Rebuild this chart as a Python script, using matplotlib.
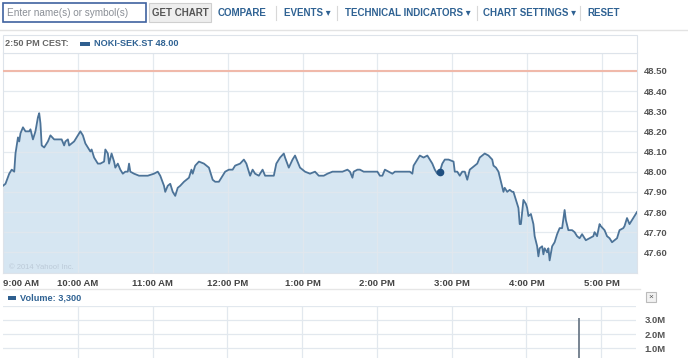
import matplotlib
matplotlib.use("Agg")
import matplotlib.pyplot as plt
from matplotlib.patches import Rectangle

# ---------------- data ----------------
minutes = [0, 2, 5, 7, 9, 10, 12, 13, 14, 16, 18, 20, 21, 22, 24, 25, 26, 28, 29, 30,
           31, 33, 34, 36, 38, 41, 45, 47, 49, 50, 52, 53, 55, 57, 60, 62, 64, 66, 68, 70,
           71, 73, 76, 78, 81, 82, 84, 85, 87, 89, 90, 92, 94, 96, 98, 100, 101, 102, 105, 109,
           116, 121, 124, 126, 129, 130, 132, 134, 136, 138, 140, 142, 145, 147, 149, 151, 152, 154, 157, 161,
           165, 168, 170, 173, 176, 178, 181, 184, 186, 190, 193, 195, 197, 198, 200, 202, 205, 208, 210, 213,
           217, 219, 222, 225, 226, 229, 232, 234, 236, 238, 242, 246, 250, 253, 257, 260, 264, 268, 272, 276,
           278, 280, 281, 284, 286, 289, 293, 297, 300, 302, 304, 306, 309, 312, 314, 318, 322, 326, 328, 329,
           332, 334, 337, 340, 342, 344, 346, 348, 350, 352, 354, 357, 361, 362, 364, 366, 368, 370, 372, 374,
           378, 380, 382, 386, 389, 392, 393, 395, 397, 399, 401, 402, 404, 406, 408, 409, 410, 412, 413, 414,
           415, 416, 417, 419, 420, 421, 423, 425, 426, 428, 429, 430, 432, 433, 434, 436, 437, 438, 440, 442,
           444, 446, 448, 450, 451, 453, 456, 458, 460, 462, 464, 466, 467, 470, 473, 474, 476, 478, 479, 482,
           484, 486, 488, 490, 492, 494, 497, 498, 500, 502, 504, 506, 508]
prices = [47.93, 47.94, 47.99, 48.01, 48.00, 48.09, 48.17, 48.15, 48.19, 48.22, 48.20, 48.20, 48.20, 48.21, 48.16, 48.18, 48.20, 48.27, 48.29, 48.24,
          48.13, 48.12, 48.13, 48.15, 48.18, 48.16, 48.16, 48.16, 48.13, 48.15, 48.16, 48.13, 48.14, 48.15, 48.18, 48.20, 48.18, 48.14, 48.12, 48.10,
          48.11, 48.07, 48.04, 48.04, 48.05, 48.11, 48.09, 48.04, 48.09, 48.05, 48.02, 48.04, 48.01, 47.99, 48.00, 48.00, 48.04, 48.00, 47.99, 47.98,
          47.98, 47.99, 48.00, 47.98, 47.93, 47.90, 47.93, 47.94, 47.90, 47.88, 47.92, 47.93, 47.95, 47.96, 47.97, 48.01, 47.99, 48.03, 48.05, 48.04,
          48.02, 47.96, 47.95, 47.95, 47.98, 48.00, 48.01, 48.01, 48.03, 48.04, 48.06, 48.04, 48.00, 47.98, 48.01, 47.99, 47.98, 48.01, 47.98, 47.98,
          47.98, 48.04, 48.07, 48.09, 48.07, 48.02, 48.06, 48.08, 48.05, 48.02, 48.00, 47.99, 48.00, 47.98, 47.98, 47.99, 48.00, 48.00, 48.00, 48.01,
          48.00, 47.97, 48.00, 48.01, 48.01, 48.00, 48.00, 48.00, 48.00, 47.98, 47.98, 48.01, 48.00, 47.99, 48.00, 48.00, 48.00, 48.00, 47.99, 48.03,
          48.06, 48.08, 48.07, 48.08, 48.06, 48.04, 48.01, 47.99, 48.00, 48.04, 48.06, 48.06, 48.05, 48.00, 48.00, 47.98, 48.00, 48.00, 47.96, 48.01,
          48.03, 48.04, 48.07, 48.09, 48.08, 48.06, 48.03, 48.02, 48.00, 47.95, 47.90, 47.92, 47.90, 47.91, 47.90, 47.90, 47.88, 47.84, 47.82, 47.74,
          47.74, 47.80, 47.86, 47.84, 47.82, 47.78, 47.79, 47.74, 47.68, 47.63, 47.58, 47.62, 47.63, 47.59, 47.62, 47.60, 47.62, 47.56, 47.63, 47.65,
          47.69, 47.72, 47.72, 47.81, 47.76, 47.71, 47.71, 47.70, 47.68, 47.67, 47.69, 47.67, 47.66, 47.67, 47.68, 47.70, 47.68, 47.74, 47.73, 47.71,
          47.68, 47.67, 47.65, 47.66, 47.67, 47.71, 47.72, 47.73, 47.77, 47.74, 47.76, 47.78, 47.80]
prev_close = 48.50
marker_minute = 350
marker_price = 48.00
vol_minutes = [462]
vol_values = [3.1e6]

hour_ticks = [0, 60, 120, 180, 240, 300, 360, 420, 480]
hour_labels = ["9:00 AM", "10:00 AM", "11:00 AM", "12:00 PM", "1:00 PM",
               "2:00 PM", "3:00 PM", "4:00 PM", "5:00 PM"]
price_ticks = [47.6, 47.7, 47.8, 47.9, 48.0, 48.1, 48.2, 48.3, 48.4, 48.5]
vol_ticks = [1e6, 2e6, 3e6]
vol_labels = ["1.0M", "2.0M", "3.0M"]

# ---------------- figure ----------------
W, H = 688, 358
fig = plt.figure(figsize=(W / 100, H / 100), dpi=100)
FAM = ["Liberation Sans", "DejaVu Sans"]
plt.rcParams["font.family"] = FAM

def fx(x):
    return x / W

def fy(y):
    return 1 - y / H

def box(x0, y0, x1, y1, **kw):
    fig.patches.append(Rectangle((fx(x0), fy(y1)), fx(x1) - fx(x0), fy(y0) - fy(y1),
                                 transform=fig.transFigure, **kw))

BLUE = "#2f6293"
GRID = "#e2e8ee"

# toolbar
box(3, 3, 146, 22, facecolor="white", edgecolor="#3f62a0", lw=1.2)
fig.text(fx(7), fy(13), "Enter name(s) or symbol(s)", fontsize=7.2, color="#8a8f96", va="center")
box(149, 3, 211, 22, facecolor="#eeeeee", edgecolor="#cfcfcf", lw=0.8)
fig.text(fx(180), fy(13), "GET CHART", fontsize=7, color="#555555", va="center", ha="center", weight="bold")
menu = [(218, "COMPARE"), (284, "EVENTS \u25BE"), (345, "TECHNICAL INDICATORS \u25BE"),
        (483, "CHART SETTINGS \u25BE"), (587, "RESET")]
for x, t in menu:
    fig.text(fx(x), fy(13), t, fontsize=7, color=BLUE, va="center", weight="bold")
for x in [276, 337, 477, 580]:
    fig.lines.append(plt.Line2D([fx(x), fx(x)], [fy(6), fy(20)], transform=fig.transFigure,
                                color="#d8d8d8", lw=0.8))
fig.lines.append(plt.Line2D([0, 1], [fy(30), fy(30)], transform=fig.transFigure, color="#e3e3e3", lw=1))

# price panel header strip
box(3, 35, 637, 52.7, facecolor="white", edgecolor="#dde3ea", lw=0.8)
fig.text(fx(5), fy(44), "2:50 PM CEST:", fontsize=6.6, color="#666666", va="center", weight="bold")
box(80, 42, 90, 46, facecolor="#2f5f8f", edgecolor="none")
fig.text(fx(94), fy(44), "NOKI-SEK.ST 48.00", fontsize=6.6, color=BLUE, va="center", weight="bold")

# price axes
ax = fig.add_axes([fx(3), fy(272.5), fx(637) - fx(3), fy(52.7) - fy(272.5)])
ax.set_xlim(0, 508)
ax.set_ylim(47.50, 48.59)
ax.fill_between(minutes, prices, 47.50, color="#d6e6f2", zorder=1, lw=0)
for t in hour_ticks[1:]:
    ax.axvline(t, color=GRID, lw=0.9, zorder=2, alpha=0.9)
for p in price_ticks:
    ax.axhline(p, color=GRID, lw=0.9, zorder=2, alpha=0.9)
ax.axhline(prev_close, color="#f0b9aa", lw=1.5, zorder=3)
ax.plot(minutes, prices, color="#4c7398", lw=1.3, zorder=4)
ax.plot([marker_minute], [marker_price], "o", color="#1f4f80", ms=4.5, zorder=5)
ax.text(5, 47.515, "\u00a9 2014 Yahoo! Inc.", fontsize=5.5, color="#bccad8", zorder=3)
for s in ax.spines.values():
    s.set_color("#dde3ea")
    s.set_linewidth(0.8)
ax.set_xticks(hour_ticks)
ax.set_xticklabels(hour_labels, fontsize=6.8, color="#444444", weight="bold")
ax.get_xticklabels()[0].set_ha("left")
ax.tick_params(axis="x", length=0, pad=5)
ax.yaxis.tick_right()
ax.set_yticks(price_ticks)
ax.set_yticklabels([f"{p:.2f}" for p in price_ticks], fontsize=6.8, color="#555555", weight="bold")
ax.tick_params(axis="y", length=0, pad=5)

# separator under time axis
fig.lines.append(plt.Line2D([fx(3), fx(640)], [fy(289), fy(289)], transform=fig.transFigure,
                            color="#e6e6e6", lw=1))

# volume header
box(8, 296, 16, 300, facecolor="#2f5f8f", edgecolor="none")
fig.text(fx(20), fy(298), "Volume: 3,300", fontsize=6.6, color=BLUE, va="center", weight="bold")
box(646, 292, 656, 302, facecolor="#f2f2f2", edgecolor="#bbbbbb", lw=0.8)
fig.text(fx(651), fy(297.5), "\u00d7", fontsize=6, color="#555555", va="center", ha="center")

# volume axes
axv = fig.add_axes([fx(3), fy(362.5), fx(636) - fx(3), fy(305.7) - fy(362.5)])
axv.set_xlim(0, 508)
axv.set_ylim(0, 4e6)
for t in hour_ticks[1:]:
    axv.axvline(t, color=GRID, lw=0.9, zorder=1)
for v in vol_ticks + [4e6]:
    axv.axhline(v, color=GRID, lw=0.9, zorder=1)
axv.vlines(vol_minutes, 0, vol_values, color="#6d7b89", lw=1.3, zorder=3)
for s in axv.spines.values():
    s.set_visible(False)
axv.set_xticks([])
axv.yaxis.tick_right()
axv.set_yticks(vol_ticks)
axv.set_yticklabels(vol_labels, fontsize=6.8, color="#555555", weight="bold")
axv.tick_params(axis="y", length=0, pad=6)

fig.savefig("out.png", dpi=100)
